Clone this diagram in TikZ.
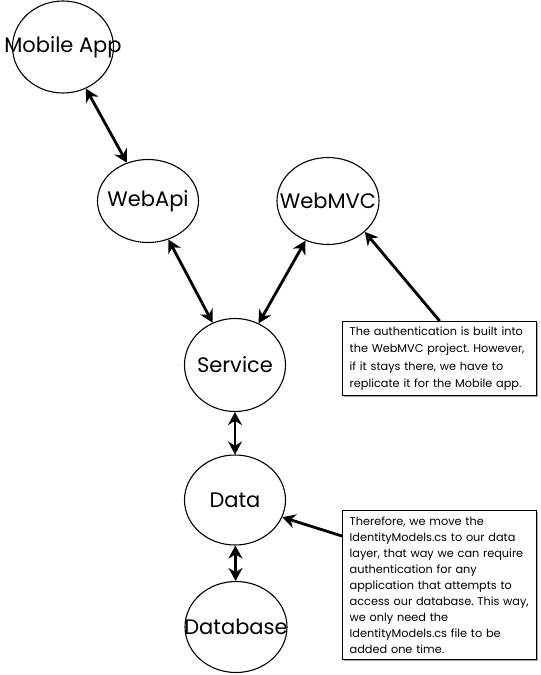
\documentclass[tikz,border=0pt]{standalone}
\usepackage{fontspec}
\setmainfont{Poppins}
\usetikzlibrary{shapes.geometric,arrows.meta,shadows}
\begin{document}
\frenchspacing
\begin{tikzpicture}[x=1pt,y=-1pt,
  bubble/.style={draw,line width=1.1pt,ellipse,inner sep=0pt,font=\fontsize{21}{24}\selectfont},
  note/.style={draw,line width=1.4pt,inner xsep=7pt,inner ysep=5pt,align=left,
    font=\fontsize{11.3}{17.5}\selectfont,anchor=north west,fill=white,
    drop shadow={shadow xshift=1.5pt,shadow yshift=-1.5pt,fill=gray!70,opacity=1}},
  link/.style={line width=2.8pt,{Stealth[length=13pt,width=14pt]}-{Stealth[length=13pt,width=14pt]}},
  pointer/.style={line width=2.8pt,-{Stealth[length=13pt,width=14pt]}}]
\useasboundingbox (0,0) rectangle (541,675);
\node[bubble,minimum width=101pt,minimum height=92pt] (mobile) at (63,47) {\makebox[0pt]{Mobile App}};
\node[bubble,minimum width=101pt,minimum height=83pt] (webapi) at (148,201) {\makebox[0pt]{WebApi}};
\node[bubble,minimum width=102pt,minimum height=87pt] (webmvc) at (328,201) {\makebox[0pt]{WebMVC}};
\node[bubble,minimum width=101pt,minimum height=93pt] (service) at (235,365) {\makebox[0pt]{Service}};
\node[bubble,minimum width=101pt,minimum height=90pt] (data) at (235,500) {\makebox[0pt]{Data}};
\node[bubble,minimum width=102pt,minimum height=91pt] (database) at (236,627) {\makebox[0pt]{Database}};
\node[note,text width=180pt] (note1) at (342,321) {The authentication is built into\\the WebMVC project. However,\\if it stays there, we have to\\replicate it for the Mobile app.};
\node[note,text width=180pt,font=\fontsize{11.3}{16}\selectfont,inner ysep=6pt] (note2) at (342,510) {Therefore, we move the\\IdentityModels.cs to our data\\layer, that way we can require\\authentication for any\\application that attempts to\\access our database. This way,\\we only need the\\IdentityModels.cs file to be\\added one time.};
\coordinate (n2start) at ([yshift=-26pt]note2.north west);
\draw[link] (mobile) -- (webapi);
\draw[link] (webapi) -- (service);
\draw[link] (webmvc) -- (service);
\draw[link] (service) -- (data);
\draw[link] (data) -- (database);
\draw[pointer] (note1.north) -- (webmvc.-40);
\draw[pointer] (n2start) -- (data.-20);
\end{tikzpicture}
\end{document}
